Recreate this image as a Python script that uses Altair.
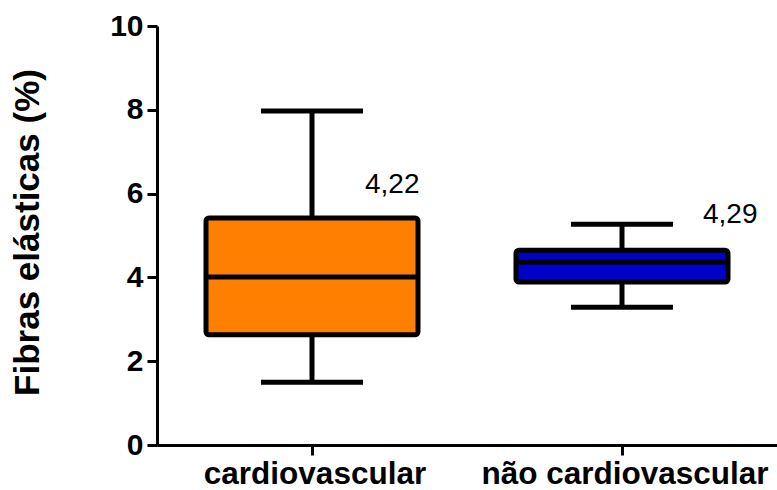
import altair as alt
import pandas as pd

categories = ["cardiovascular", "não cardiovascular"]
whisker_low = [1.50, 3.29]
q1 = [2.63, 3.89]
median = [4.01, 4.37]
q3 = [5.42, 4.65]
whisker_high = [7.97, 5.27]
means = [4.22, 4.29]
mean_label_y = [6.01, 5.30]
fill_colors = ["#FF8000", "#0000C8"]

df = pd.DataFrame({
    "cat": categories,
    "lo": whisker_low,
    "q1": q1,
    "med": median,
    "q3": q3,
    "hi": whisker_high,
    "mean": means,
    "ly": mean_label_y,
    "color": fill_colors,
})

FONT = "Liberation Sans"

x_enc = alt.X(
    "cat:N",
    sort=categories,
    scale=alt.Scale(paddingInner=0, paddingOuter=0),
    axis=alt.Axis(
        title=None, labelAngle=0, labelFont=FONT, labelFontSize=31.5,
        labelFontWeight="bold", labelColor="black", labelPadding=3, labelLimit=0,
        labelOffset=3,
        domainColor="black", domainWidth=3, tickColor="black", tickWidth=3,
        tickSize=10, grid=False,
    ),
)
y_scale = alt.Scale(domain=[0, 10], nice=False, zero=True)
y_axis = alt.Axis(
    title="Fibras elásticas (%)", values=[0, 2, 4, 6, 8, 10], labelFont=FONT,
    labelFontSize=30, labelFontWeight="bold", labelColor="black", labelPadding=4,
    titleFont=FONT, titleFontSize=35, titleFontWeight="bold", titleColor="black",
    titleX=-130, titleY=206, titleAngle=-90, titleAlign="center", titleBaseline="middle",
    domainColor="black", domainWidth=3, tickColor="black", tickWidth=3, tickSize=10,
    grid=False,
)

base = alt.Chart(df)

whisk_lo = base.mark_rule(color="black", strokeWidth=5, opacity=1).encode(
    x=x_enc, y=alt.Y("lo:Q", scale=y_scale, axis=y_axis), y2="q1:Q")
whisk_hi = base.mark_rule(color="black", strokeWidth=5, opacity=1).encode(
    x=x_enc, y=alt.Y("q3:Q", scale=y_scale, axis=y_axis), y2="hi:Q")
box = base.mark_bar(size=212, stroke="black", strokeWidth=5, cornerRadius=3,
                    opacity=1).encode(
    x=x_enc, y=alt.Y("q1:Q", scale=y_scale, axis=y_axis), y2="q3:Q",
    color=alt.Color("color:N", scale=None))
med = base.mark_tick(size=212, thickness=5, color="black", opacity=1).encode(
    x=x_enc, y=alt.Y("med:Q", scale=y_scale, axis=y_axis))
cap_lo = base.mark_tick(size=102, thickness=5, color="black", opacity=1).encode(
    x=x_enc, y=alt.Y("lo:Q", scale=y_scale, axis=y_axis))
cap_hi = base.mark_tick(size=102, thickness=5, color="black", opacity=1).encode(
    x=x_enc, y=alt.Y("hi:Q", scale=y_scale, axis=y_axis))

def mean_text(cat, dx):
    return base.transform_filter(alt.datum.cat == cat).transform_calculate(
        lab="replace(format(datum.mean, '.2f'), '.', ',')"
    ).mark_text(align="left", baseline="alphabetic", font=FONT, fontSize=28,
                color="black", dx=dx).encode(
        x=x_enc, y=alt.Y("ly:Q", scale=y_scale, axis=y_axis), text="lab:N")

chart = alt.layer(
    whisk_lo, whisk_hi, box, med, cap_lo, cap_hi,
    mean_text(categories[0], 53), mean_text(categories[1], 81),
).properties(
    width=620, height=419,
    autosize=alt.AutoSizeParams(type="none"),
    padding={"left": 157, "top": 26, "right": 0, "bottom": 45},
    background="white",
).configure_view(stroke=None)

chart.save("out.html", embed_options={"renderer": "svg", "actions": False})
